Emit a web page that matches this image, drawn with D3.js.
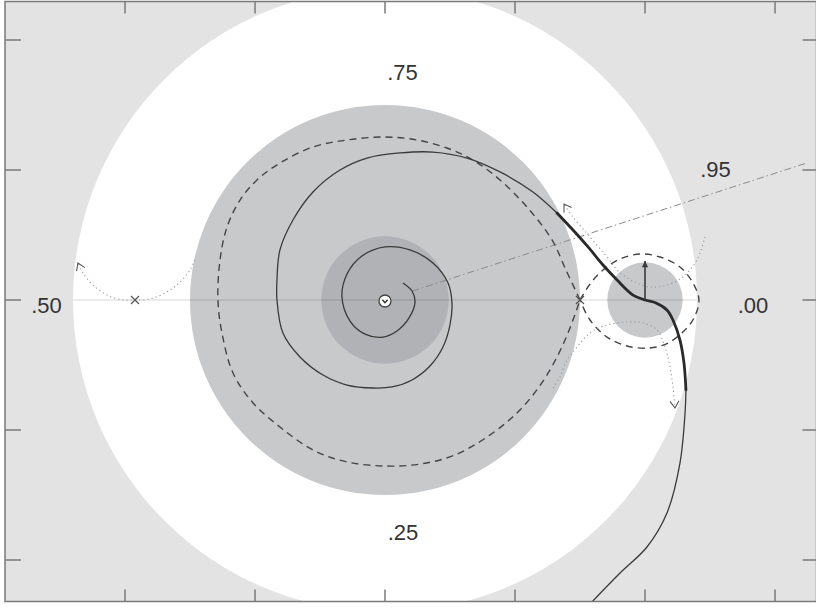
<!DOCTYPE html>
<html>
<head>
<meta charset="utf-8">
<script src="https://cdn.jsdelivr.net/npm/d3@7"></script>
<style>
  html, body { margin: 0; padding: 0; background: #fff; }
  svg { display: block; }
  text { font-family: "Liberation Sans", Arial, Helvetica, sans-serif; }
</style>
</head>
<body>
<svg id="chart" width="816" height="609"></svg>
<script>
// ---- data (plane coordinates, one unit per tick) ----
const xTicks = [-2, -1, 0, 1, 2, 3];
const yTicks = [-2, -1, 0, 1, 2];

// filled disks: [cx, cy, r, tone]
const disks = [
  [0, 0, 2.4, "white"],
  [0, 0, 1.5, "mid"],
  [0, 0, 0.49, "dark"],
  [2, 0, 0.29, "mid"]
];

// angle labels: [text, x, y]
const angleLabels = [
  [".75", 0.135, 1.692],
  [".25", 0.138, -1.846],
  [".50", -2.604, -0.1],
  [".00", 2.831, -0.1],
  [".95", 2.542, 0.946]
];

// orbit spiralling out from the centre
const spiral = [
  [0.138, 0.131], [0.208, 0.069], [0.231, -0.015], [0.185, -0.138], [0.092, -0.238],
  [-0.015, -0.285], [-0.154, -0.262], [-0.269, -0.162], [-0.331, 0.023], [-0.292, 0.2],
  [-0.177, 0.338], [0, 0.408], [0.192, 0.385], [0.369, 0.285], [0.485, 0.131],
  [0.515, -0.023], [0.5, -0.192], [0.446, -0.362], [0.346, -0.508], [0.208, -0.615],
  [0.054, -0.669], [-0.092, -0.677], [-0.292, -0.654], [-0.477, -0.577], [-0.654, -0.438],
  [-0.785, -0.254], [-0.831, 0], [-0.831, 0.154], [-0.808, 0.385], [-0.708, 0.615],
  [-0.554, 0.831], [-0.346, 1.0], [-0.138, 1.092], [0.115, 1.131], [0.369, 1.138],
  [0.631, 1.092], [0.885, 0.985], [1.138, 0.831], [1.323, 0.669]
];

// heavy segment through the small disk
const heavy = [
  [1.323, 0.669], [1.446, 0.538], [1.562, 0.408], [1.677, 0.269], [1.785, 0.154],
  [1.908, 0.038], [2.0, 0.0], [2.085, -0.023], [2.169, -0.077], [2.215, -0.154],
  [2.269, -0.308], [2.3, -0.485], [2.315, -0.692]
];

// tail leaving through the bottom
const tail = [
  [2.315, -0.692], [2.308, -0.869], [2.269, -1.254], [2.169, -1.638], [2.015, -1.9],
  [1.808, -2.1], [1.592, -2.323], [1.5, -2.423]
];

// figure-eight level curve: large lobe and small lobe, both through the saddle
const lobeLarge = [
  [1.5, 0], [1.392, 0.231], [1.285, 0.462], [1.092, 0.715], [0.885, 0.923],
  [0.677, 1.077], [0.477, 1.169], [0.246, 1.231], [0, 1.254], [-0.292, 1.231],
  [-0.554, 1.177], [-0.808, 1.054], [-0.985, 0.923], [-1.115, 0.769], [-1.215, 0.562],
  [-1.269, 0.308], [-1.285, 0], [-1.254, -0.254], [-1.169, -0.562], [-1.015, -0.792],
  [-0.808, -0.977], [-0.554, -1.154], [-0.292, -1.246], [0, -1.277], [0.269, -1.262],
  [0.538, -1.192], [0.808, -1.038], [1.038, -0.846], [1.231, -0.6], [1.385, -0.308],
  [1.5, 0]
];
const lobeSmall = [
  [1.5, 0], [1.577, 0.123], [1.677, 0.231], [1.808, 0.315], [1.962, 0.354],
  [2.115, 0.331], [2.269, 0.254], [2.369, 0.131], [2.415, 0], [2.377, -0.138],
  [2.3, -0.238], [2.177, -0.331], [2.038, -0.369], [1.862, -0.354], [1.708, -0.285],
  [1.577, -0.154], [1.5, 0]
];

// dotted flow lines, each ending in an open arrowhead
const flowLines = [
  [[-1.462, 0.308], [-1.5, 0.231], [-1.577, 0.138], [-1.677, 0.062], [-1.808, 0.008],
   [-1.923, 0], [-2.015, 0.0], [-2.138, 0.038], [-2.246, 0.115], [-2.323, 0.208], [-2.362, 0.285]],
  [[2.462, 0.485], [2.4, 0.308], [2.292, 0.177], [2.169, 0.115], [2.038, 0.1],
   [1.938, 0.131], [1.808, 0.208], [1.708, 0.331], [1.577, 0.485], [1.446, 0.638], [1.377, 0.738]],
  [[1.292, -0.677], [1.346, -0.592], [1.4, -0.462], [1.477, -0.362], [1.577, -0.254],
   [1.708, -0.192], [1.862, -0.169], [1.985, -0.177], [2.092, -0.231], [2.154, -0.362],
   [2.192, -0.515], [2.215, -0.669], [2.231, -0.831]]
];

// saddle points
const saddles = [[-1.923, 0], [1.5, 0]];

// external ray at angle .95 (turns, clockwise): [turn, rStart, rEnd]
const ray = [0.95, 0.22, 3.4];

// vector at the small disk: [x0, y0, x1, y1]
const vec = [2, 0, 2, 0.3];

// ---- layout ----
const svg = d3.select("#chart");
const x = d3.scaleLinear().domain([-1, 1]).range([255, 515]);
const y = d3.scaleLinear().domain([-1, 1]).range([430, 170]);
const frame = { left: 5, top: 1.5, right: 816.5, bottom: 601.5 };
const ink = "#3a3a3a";

const defs = svg.append("defs");
defs.append("clipPath").attr("id", "plotClip")
  .append("rect")
  .attr("x", frame.left).attr("y", frame.top)
  .attr("width", frame.right - frame.left).attr("height", frame.bottom - frame.top);

const chevron = defs.append("marker")
  .attr("id", "chev").attr("markerUnits", "userSpaceOnUse")
  .attr("markerWidth", 16).attr("markerHeight", 16)
  .attr("viewBox", "-10 -8 12 16").attr("refX", 0).attr("refY", 0)
  .attr("orient", "auto");
chevron.append("path").attr("d", "M-7,-4.5 L0,0 L-7,4.5")
  .attr("fill", "none").attr("stroke", "#555").attr("stroke-width", 1.1);

const head = defs.append("marker")
  .attr("id", "head").attr("markerUnits", "userSpaceOnUse")
  .attr("markerWidth", 10).attr("markerHeight", 10)
  .attr("viewBox", "-6 -4 8 8").attr("refX", 0).attr("refY", 0)
  .attr("orient", "auto");
head.append("path").attr("d", "M-5,-2.5 L0,0 L-5,2.5 Z").attr("fill", ink);

const plot = svg.append("g").attr("clip-path", "url(#plotClip)");

// background
plot.append("rect")
  .attr("x", frame.left).attr("y", frame.top)
  .attr("width", frame.right - frame.left).attr("height", frame.bottom - frame.top)
  .attr("fill", "#e3e3e3");

const toneFill = { white: "#ffffff", mid: "#c8c9cb", dark: "#b1b2b5" };
const px = x(1) - x(0);
plot.selectAll("circle.disk").data(disks).join("circle")
  .attr("class", "disk")
  .attr("cx", d => x(d[0])).attr("cy", d => y(d[1]))
  .attr("r", d => d[2] * px)
  .attr("fill", d => toneFill[d[3]]);

// real axis inside the white disk
plot.append("line")
  .attr("x1", x(-2.4)).attr("x2", x(2.4)).attr("y1", y(0)).attr("y2", y(0))
  .attr("stroke", "#000").attr("stroke-opacity", 0.16).attr("stroke-width", 1.2);

const line = d3.line().x(d => x(d[0])).y(d => y(d[1])).curve(d3.curveCatmullRom.alpha(0.5));

// external ray (angles measured clockwise in turns)
const t = -ray[0] * 2 * Math.PI;
plot.append("line")
  .attr("x1", x(ray[1] * Math.cos(t))).attr("y1", y(ray[1] * Math.sin(t)))
  .attr("x2", x(ray[2] * Math.cos(t))).attr("y2", y(ray[2] * Math.sin(t)))
  .attr("stroke", "#8a8a8a").attr("stroke-width", 1)
  .attr("stroke-dasharray", "7,3,1.5,3");

// figure-eight
[lobeLarge, lobeSmall].forEach(pts => {
  plot.append("path").attr("d", line(pts))
    .attr("fill", "none").attr("stroke", "#444").attr("stroke-width", 1.4)
    .attr("stroke-dasharray", "7,5");
});

// dotted flow lines
flowLines.forEach(pts => {
  plot.append("path").attr("d", line(pts))
    .attr("fill", "none").attr("stroke", "#9a9a9a").attr("stroke-width", 1.1)
    .attr("stroke-dasharray", "1.2,3")
    .attr("marker-end", "url(#chev)");
});

// orbit
plot.append("path").attr("d", line(spiral))
  .attr("fill", "none").attr("stroke", ink).attr("stroke-width", 1.3);
plot.append("path").attr("d", line(heavy))
  .attr("fill", "none").attr("stroke", "#2a2a2a").attr("stroke-width", 2.8)
  .attr("stroke-linecap", "round");
plot.append("path").attr("d", line(tail))
  .attr("fill", "none").attr("stroke", ink).attr("stroke-width", 1.3);

// vector at small disk
plot.append("line")
  .attr("x1", x(vec[0])).attr("y1", y(vec[1]))
  .attr("x2", x(vec[2])).attr("y2", y(vec[3]))
  .attr("stroke", ink).attr("stroke-width", 1.6)
  .attr("marker-end", "url(#head)");

// saddle crosses
const cs = 4;
plot.selectAll("path.saddle").data(saddles).join("path")
  .attr("class", "saddle")
  .attr("d", d => {
    const cx = x(d[0]), cy = y(d[1]);
    return `M${cx - cs},${cy - cs}L${cx + cs},${cy + cs}M${cx - cs},${cy + cs}L${cx + cs},${cy - cs}`;
  })
  .attr("stroke", "#555").attr("stroke-width", 1.2).attr("fill", "none");

// centre marker
const cg = plot.append("g").attr("transform", `translate(${x(0)},${y(0) + 1})`);
cg.append("circle").attr("r", 6).attr("fill", "#fff").attr("stroke", "#444").attr("stroke-width", 1.3);
cg.append("path").attr("d", "M-2.6,-1.2 L0,1.8 L2.6,-1.2").attr("fill", "none")
  .attr("stroke", "#333").attr("stroke-width", 1.4);

// angle labels
plot.selectAll("text.ang").data(angleLabels).join("text")
  .attr("class", "ang")
  .attr("x", d => x(d[1])).attr("y", d => y(d[2]))
  .attr("text-anchor", "middle")
  .attr("font-size", 22).attr("fill", "#333")
  .text(d => d[0]);

// frame and ticks
const axisG = svg.append("g").attr("stroke", "#7a7a7a").attr("stroke-width", 1.5);
axisG.append("rect")
  .attr("x", frame.left).attr("y", frame.top)
  .attr("width", frame.right - frame.left).attr("height", frame.bottom - frame.top)
  .attr("fill", "none");
axisG.selectAll("line.tt").data(xTicks).join("line").attr("class", "tt")
  .attr("x1", d => x(d)).attr("x2", d => x(d)).attr("y1", frame.top).attr("y2", frame.top + 12);
axisG.selectAll("line.tb").data(xTicks).join("line").attr("class", "tb")
  .attr("x1", d => x(d)).attr("x2", d => x(d)).attr("y1", frame.bottom).attr("y2", frame.bottom - 12);
axisG.selectAll("line.tl").data(yTicks).join("line").attr("class", "tl")
  .attr("y1", d => y(d)).attr("y2", d => y(d)).attr("x1", frame.left).attr("x2", frame.left + 16);
axisG.selectAll("line.tr").data(yTicks).join("line").attr("class", "tr")
  .attr("y1", d => y(d)).attr("y2", d => y(d)).attr("x1", frame.right).attr("x2", frame.right - 14);
</script>
</body>
</html>
